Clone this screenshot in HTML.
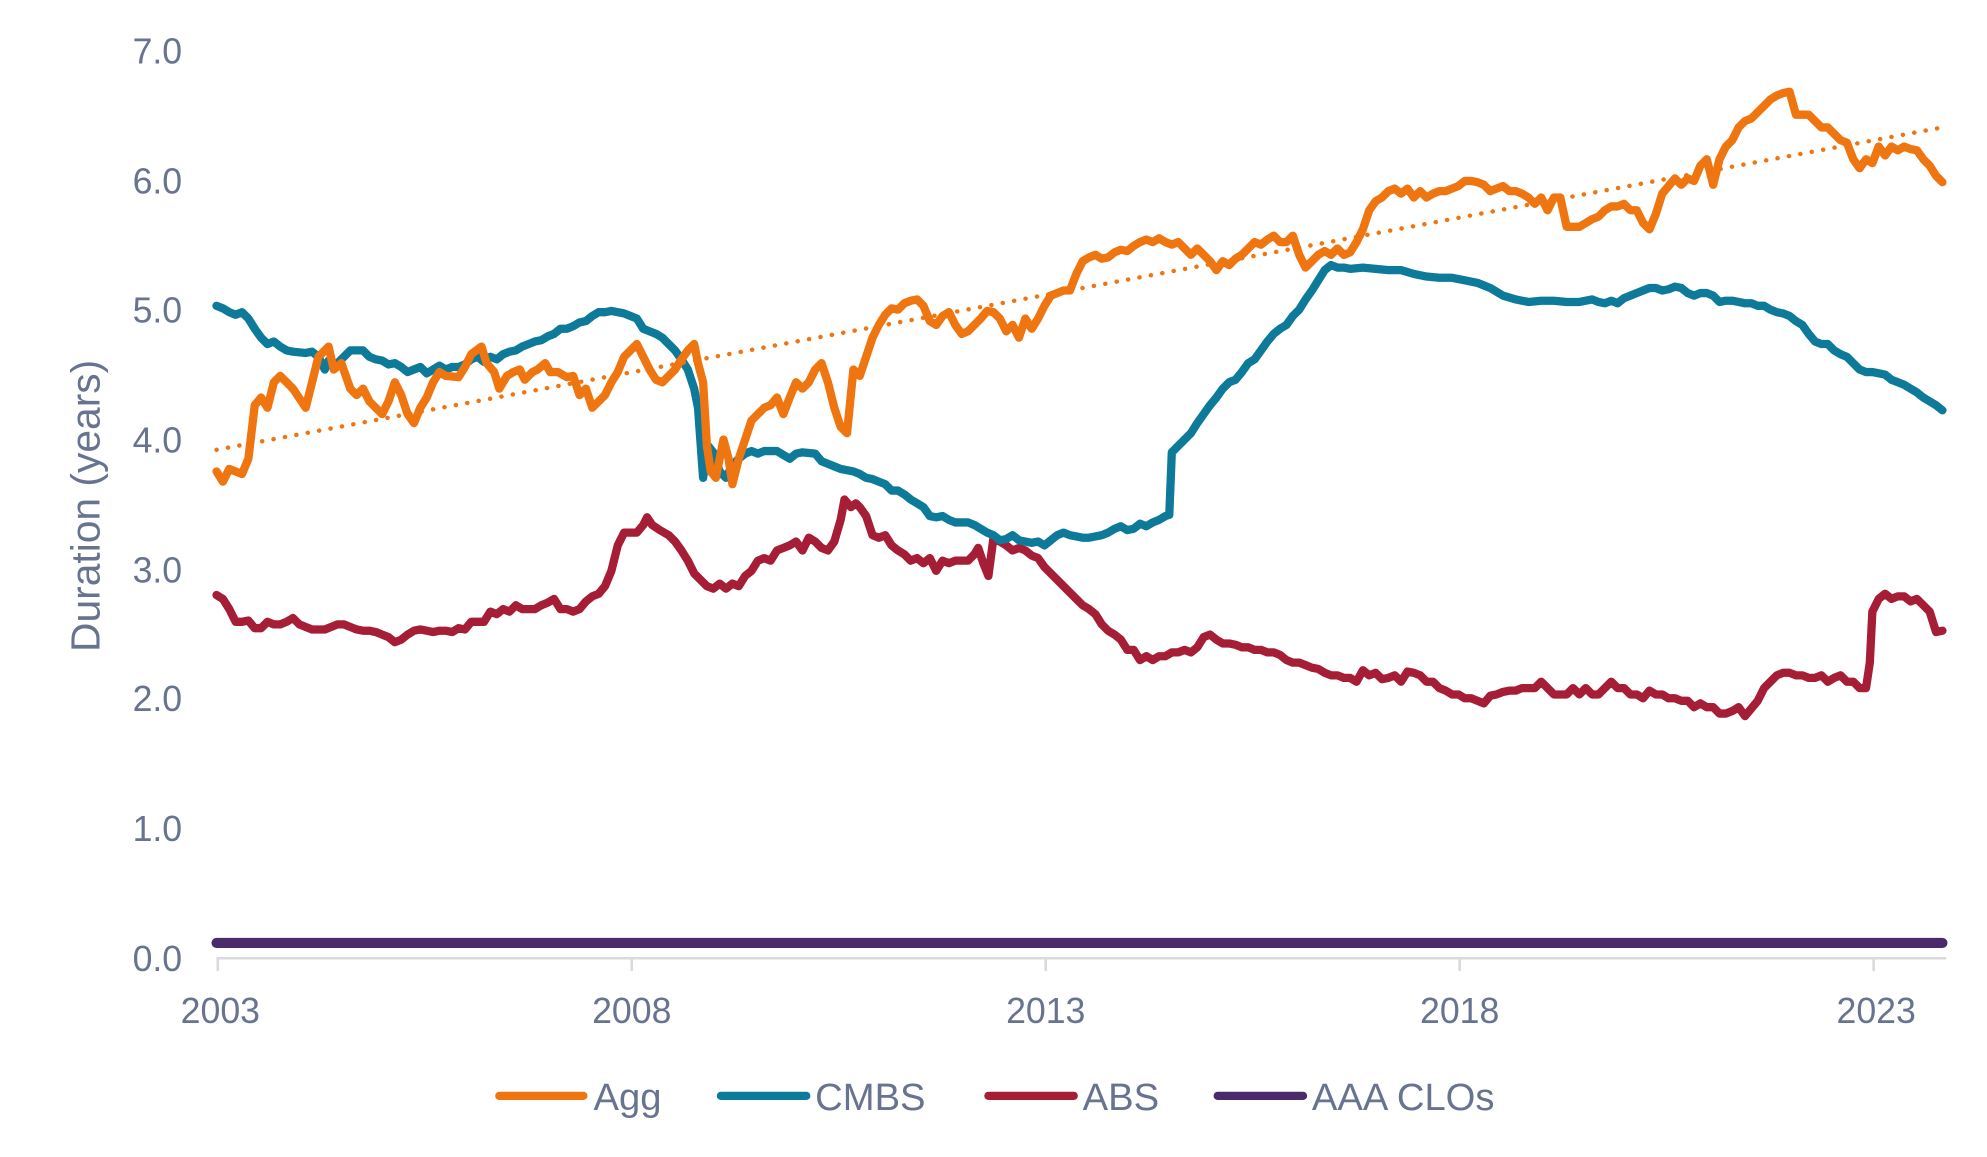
<!DOCTYPE html>
<html><head><meta charset="utf-8"><style>
html,body{margin:0;padding:0;background:#fff;}
svg{display:block;}
text{font-family:"Liberation Sans",Arial,sans-serif;fill:#687390;}
</style></head><body>
<svg width="1987" height="1157" viewBox="0 0 1560 908" preserveAspectRatio="none" xmlns="http://www.w3.org/2000/svg">
<g font-size="28" text-anchor="end">
<text x="143" y="50">7.0</text>
<text x="143" y="152">6.0</text>
<text x="143" y="253">5.0</text>
<text x="143" y="355">4.0</text>
<text x="143" y="457">3.0</text>
<text x="143" y="558">2.0</text>
<text x="143" y="660">1.0</text>
<text x="143" y="762">0.0</text>
</g>
<text transform="translate(78,397) rotate(-90)" font-size="32" text-anchor="middle">Duration (years)</text>
<line x1="170" y1="752" x2="1528" y2="752" stroke="#d9d9df" stroke-width="2"/>
<g stroke="#d9d9df" stroke-width="2">
<line x1="171" y1="752" x2="171" y2="762"/><line x1="496" y1="752" x2="496" y2="762"/><line x1="821" y1="752" x2="821" y2="762"/><line x1="1146" y1="752" x2="1146" y2="762"/><line x1="1471" y1="752" x2="1471" y2="762"/>
</g>
<g font-size="28" text-anchor="middle">
<text x="173" y="803">2003</text><text x="496" y="803">2008</text><text x="821" y="803">2013</text><text x="1146" y="803">2018</text><text x="1473" y="803">2023</text>
</g>
<g fill="none" stroke-width="6.5" stroke-linejoin="round" stroke-linecap="round">
<line x1="170" y1="740" x2="1525" y2="740" stroke="#4B2A6B" stroke-width="8"/>
<polyline stroke="#A51E36" points="170,467 175,470 180,478 185,488 190,488 195,487 200,493 205,493 210,488 215,490 220,490 225,488 230,485 235,490 240,492 245,494 250,494 255,494 260,492 265,490 270,490 275,492 280,494 285,495 290,495 295,496 300,498 305,500 310,504 315,502 320,498 325,495 330,494 335,495 340,496 345,495 350,495 355,496 360,493 365,494 370,488 375,488 380,488 385,480 390,482 395,478 400,480 405,475 410,478 415,478 420,478 425,475 430,473 435,470 440,478 445,478 450,480 455,478 460,472 465,468 470,466 475,460 480,448 485,428 490,418 495,418 500,418 505,412 508,406 512,412 518,416 525,420 530,425 535,432 540,440 545,450 550,455 555,460 560,462 565,458 570,462 575,458 580,460 585,452 590,448 595,440 600,438 605,440 610,432 615,430 620,428 625,425 630,432 635,422 640,425 645,430 650,432 655,425 660,408 663,392 668,398 672,395 675,398 680,405 685,420 690,422 695,420 700,428 705,432 710,435 715,440 720,438 725,442 730,438 735,448 740,440 745,442 750,440 755,440 760,440 765,435 768,430 772,442 776,452 780,422 785,425 790,428 795,432 800,430 805,432 810,436 815,438 820,445 825,450 830,455 835,460 840,465 845,470 850,475 855,478 860,482 865,490 870,495 875,498 880,502 885,510 890,510 895,518 900,515 905,518 910,515 915,515 920,512 925,512 930,510 935,512 940,508 945,500 950,498 955,502 960,505 965,505 970,506 975,508 980,508 985,510 990,510 995,512 1000,512 1005,514 1010,518 1015,520 1020,520 1025,522 1030,524 1035,525 1040,528 1045,530 1050,530 1055,532 1060,532 1065,535 1070,526 1075,530 1080,528 1085,533 1090,532 1095,530 1100,535 1105,527 1110,528 1115,530 1120,535 1125,535 1130,540 1135,542 1140,545 1145,545 1150,548 1155,548 1160,550 1165,552 1170,546 1175,545 1180,543 1185,542 1190,542 1195,540 1200,540 1205,540 1210,535 1215,540 1220,545 1225,545 1230,545 1235,540 1240,545 1245,540 1250,545 1255,545 1260,540 1265,535 1270,540 1275,540 1280,545 1285,545 1290,548 1295,542 1300,545 1305,545 1310,548 1315,548 1320,550 1325,550 1330,555 1335,552 1340,555 1345,555 1350,560 1355,560 1360,558 1365,555 1370,562 1375,556 1380,550 1385,540 1390,535 1395,530 1400,528 1405,528 1410,530 1415,530 1420,532 1425,532 1430,530 1435,535 1440,532 1445,530 1450,535 1455,535 1460,540 1465,540 1468,520 1470,480 1475,470 1480,466 1485,470 1490,468 1495,468 1500,472 1505,470 1510,475 1515,480 1520,496 1525,495"/>
<polyline stroke="#0E7A99" points="170,240 175,242 180,245 185,247 190,245 195,250 200,258 205,265 210,270 215,268 220,272 225,275 230,276 240,277 245,276 250,280 255,290 258,283 262,287 265,285 270,280 275,275 280,275 285,275 290,280 295,282 300,283 305,286 310,285 315,288 320,292 325,290 330,288 335,293 340,290 345,287 350,290 355,288 360,288 365,286 370,282 375,280 380,284 385,280 390,282 395,278 400,276 405,275 410,272 415,270 420,268 425,267 430,264 435,262 440,258 445,258 450,256 455,253 460,252 465,248 470,245 475,245 480,244 485,245 490,246 495,248 500,250 505,258 510,260 515,262 520,265 525,270 530,275 535,282 540,290 545,305 548,320 552,375 556,350 560,355 565,370 570,375 575,365 580,360 585,356 590,354 595,356 600,354 610,354 615,357 620,360 625,356 630,355 640,356 645,362 650,364 655,366 660,368 670,370 675,372 680,375 685,376 690,378 695,380 700,385 705,385 710,388 715,392 720,395 725,398 730,405 735,406 740,405 745,408 750,410 755,410 760,410 765,412 770,415 775,418 780,420 785,424 790,423 795,420 800,424 805,425 810,426 815,425 820,428 825,424 830,420 835,418 840,420 845,421 850,422 855,422 860,421 865,420 870,418 875,415 880,413 885,416 890,415 895,411 900,413 905,410 910,408 915,405 918,404 920,355 925,350 930,345 935,340 940,332 945,325 950,318 955,312 960,305 965,300 970,298 975,292 980,285 985,282 990,275 995,268 1000,262 1005,258 1010,255 1015,248 1020,243 1025,235 1030,228 1035,220 1040,212 1045,208 1050,210 1055,210 1060,211 1070,210 1080,211 1090,212 1100,212 1110,215 1120,217 1130,218 1140,218 1150,220 1160,222 1170,226 1180,232 1190,235 1200,237 1210,236 1220,236 1230,237 1240,237 1250,235 1255,237 1260,238 1265,236 1270,238 1275,234 1280,232 1285,230 1290,228 1295,226 1300,226 1305,228 1310,227 1315,225 1320,226 1325,230 1330,232 1335,230 1340,230 1345,232 1350,237 1355,236 1360,236 1365,237 1370,238 1375,238 1380,240 1385,240 1390,243 1395,245 1400,246 1405,248 1410,252 1415,255 1420,262 1425,268 1430,270 1435,270 1440,275 1445,278 1450,280 1455,285 1460,290 1465,292 1470,292 1475,293 1480,294 1485,298 1490,300 1495,302 1500,305 1505,308 1510,312 1515,315 1520,318 1525,322"/>
<polyline stroke="#EE7510" points="170,370 175,378 180,368 190,372 195,360 200,318 205,312 210,320 215,300 220,295 230,305 240,320 245,300 250,280 258,272 262,290 268,285 275,305 280,310 285,305 290,315 295,320 300,325 305,315 310,300 315,310 320,325 325,332 330,320 335,312 340,300 345,292 350,295 360,296 365,288 370,278 378,272 382,285 388,292 392,305 398,295 403,292 408,290 412,298 418,292 422,290 428,285 432,292 438,292 445,296 450,295 455,310 460,305 465,320 470,315 475,310 480,300 485,292 490,280 497,273 500,270 505,280 510,290 515,298 520,300 525,295 530,290 535,282 540,275 545,270 548,285 552,300 555,350 558,370 562,375 565,360 568,345 572,360 575,380 580,360 585,345 590,330 595,325 600,320 605,318 610,312 615,325 620,312 625,300 630,305 635,300 640,290 645,285 650,300 655,320 660,335 665,340 670,290 675,295 680,280 685,265 690,255 695,247 700,242 705,243 710,238 715,236 720,235 725,240 730,252 735,255 740,248 745,245 750,255 755,262 760,260 765,255 770,250 775,244 780,245 785,250 790,260 795,255 800,265 805,250 810,258 815,250 820,240 825,232 830,230 835,228 840,228 845,215 850,205 855,202 860,200 865,203 870,202 875,198 880,196 885,197 890,193 895,190 900,188 905,190 910,187 915,190 920,192 925,190 930,195 935,200 940,195 945,200 950,205 955,212 960,205 965,208 970,203 975,200 980,195 985,190 990,192 995,188 1000,185 1005,190 1010,190 1015,185 1020,200 1025,210 1030,205 1035,200 1040,197 1045,200 1050,195 1055,200 1060,198 1065,190 1070,180 1075,165 1080,158 1085,155 1090,150 1095,148 1100,152 1105,148 1110,155 1115,150 1120,155 1125,152 1130,150 1135,150 1140,148 1145,146 1150,142 1155,142 1160,143 1165,145 1170,150 1175,148 1180,146 1185,150 1190,150 1195,152 1200,155 1205,160 1210,155 1215,165 1220,155 1225,155 1230,178 1235,178 1240,178 1245,175 1250,172 1255,170 1260,165 1265,162 1270,162 1275,160 1280,165 1285,165 1290,175 1295,180 1300,168 1305,152 1310,146 1315,140 1320,145 1325,140 1330,142 1335,130 1340,125 1345,145 1350,125 1355,115 1360,110 1365,100 1370,95 1375,93 1380,88 1385,83 1390,78 1395,75 1400,73 1405,72 1410,90 1415,90 1420,90 1425,95 1430,100 1435,100 1440,105 1445,110 1450,112 1455,125 1460,132 1465,125 1470,128 1475,115 1480,122 1485,115 1490,118 1495,115 1500,117 1505,118 1510,125 1515,130 1520,138 1525,143"/>
<line x1="170" y1="353" x2="1525" y2="100" stroke="#EE7510" stroke-width="3.5" stroke-dasharray="0.1 9"/>
</g>
<g stroke-width="6.5" stroke-linecap="round">
<line x1="392" y1="860" x2="458" y2="860" stroke="#EE7510"/>
<line x1="566" y1="860" x2="633" y2="860" stroke="#0E7A99"/>
<line x1="776" y1="860" x2="843" y2="860" stroke="#A51E36"/>
<line x1="956" y1="860" x2="1023" y2="860" stroke="#4B2A6B"/>
</g>
<g font-size="30">
<text x="466" y="871">Agg</text>
<text x="640" y="871">CMBS</text>
<text x="850" y="871">ABS</text>
<text x="1030" y="871">AAA CLOs</text>
</g>
</svg>
</body></html>
